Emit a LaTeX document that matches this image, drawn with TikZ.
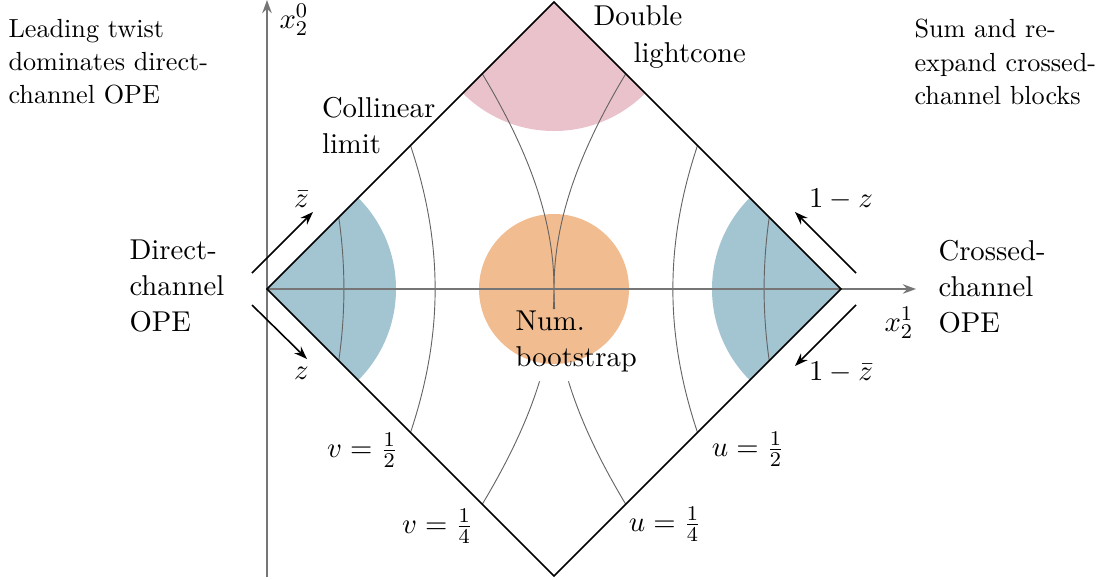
\documentclass[tikz,border=0pt]{standalone}
\usetikzlibrary{arrows.meta}
\definecolor{pinkfill}{RGB}{234,194,204}
\definecolor{bluefill}{RGB}{163,196,209}
\definecolor{orangefill}{RGB}{241,188,143}
\definecolor{axisgray}{RGB}{118,118,118}
\definecolor{curvegray}{RGB}{100,100,100}
\begin{document}
\begin{tikzpicture}[x={(0.3817pt,0pt)}, y={(0pt,-0.3817pt)},
  axisline/.style={draw=axisgray, line width=0.8pt, -{Stealth[length=5pt,width=3.6pt]}},
  edgeline/.style={draw=black, line width=0.6pt},
  levelcurve/.style={draw=curvegray, line width=0.35pt},
  chanarrow/.style={draw=black, line width=0.6pt, -{Stealth[length=5pt,width=3.6pt]}},
  corner/.style={inner sep=0pt, align=left, anchor=north west, font={\fontsize{10}{12.6}\selectfont}},
  txt/.style={inner sep=0pt, align=left, anchor=north west, font={\fontsize{10.95}{13.7}\selectfont}},
  mlabel/.style={inner sep=0pt, font={\fontsize{10.95}{13.7}\selectfont}}]
\useasboundingbox (0,0) rectangle (1104,579);
\coordinate (L) at (267,289);
\coordinate (R) at (841,289);
\coordinate (T) at (554,2);
\coordinate (B) at (554,576);
\coordinate (C) at (554,289);
% shaded regions
\begin{scope}
  \clip (L) -- (T) -- (R) -- (B) -- cycle;
  \fill[pinkfill] (T) circle[radius=129];
  \fill[bluefill] (L) circle[radius=129];
  \fill[bluefill] (R) circle[radius=129];
\end{scope}
\fill[orangefill] (C) circle[radius=75];
% level curves u = const (centred at left vertex) and v = const
\foreach \c/\a/\b in {0.75/-0.125/0.125, 0.5/-0.25/0.25, 0.25/-0.035/0.375, 0.25/-0.375/-0.16}{
  \draw[levelcurve] plot[domain=\a:\b, samples=60, variable=\t] ({267+574*sqrt(\c+\t*\t)}, {289-574*\t});
  \draw[levelcurve] plot[domain=\a:\b, samples=60, variable=\t] ({267+574*(1-sqrt(\c+\t*\t))}, {289-574*\t});
}
% axes
\coordinate (ybot) at (267,577);
\coordinate (ytop) at (267,0);
\coordinate (xend) at (916,289);
\draw[axisline] (ybot) -- (ytop);
\draw[axisline] (L) -- (xend);
% diamond
\draw[edgeline] (L) -- (T) -- (R) -- (B) -- cycle;
% channel arrows
\coordinate (zb1) at (252,273);
\coordinate (zb2) at (313,212);
\coordinate (z1) at (252,305);
\coordinate (z2) at (307,359);
\coordinate (oz1) at (856,273);
\coordinate (oz2) at (795,212);
\coordinate (ozb1) at (856,305);
\coordinate (ozb2) at (795,366);
\draw[chanarrow] (zb1) -- (zb2);
\draw[chanarrow] (z1) -- (z2);
\draw[chanarrow] (oz1) -- (oz2);
\draw[chanarrow] (ozb1) -- (ozb2);
% math labels
\node[mlabel] (lzb) at (301.5,199) {$\bar z$};
\node[mlabel] (lz) at (301.5,373) {$z$};
\node[mlabel] (loz) at (841,199) {$1-z$};
\node[mlabel] (lozb) at (841,372) {$1-\bar z$};
\node[mlabel] (lx0) at (294,20) {$x_2^0$};
\node[mlabel] (lx1) at (899,323) {$x_2^1$};
\node[mlabel] (lv2) at (362.5,450) {$v=\frac12$};
\node[mlabel] (lv4) at (437.5,526) {$v=\frac14$};
\node[mlabel] (lu2) at (748,449) {$u=\frac12$};
\node[mlabel] (lu4) at (665,524) {$u=\frac14$};
% text labels
\node[corner] (lead) at (8,19) {Leading twist\\dominates direct-\\channel OPE};
\node[corner] (sum) at (914,19) {Sum and re-\\expand crossed-\\channel blocks};
\node[txt] (dbl) at (593,5) {Double};
\node[txt] (lc) at (633,42) {lightcone};
\node[txt] (col) at (321.5,97) {Collinear\\limit};
\node[txt] (dir) at (129,239.5) {Direct-\\channel\\OPE};
\node[txt] (cro) at (938,239.5) {Crossed-\\channel\\OPE};
\node[txt] (num) at (515,310.5) {Num.\\bootstrap};
\end{tikzpicture}
\end{document}
